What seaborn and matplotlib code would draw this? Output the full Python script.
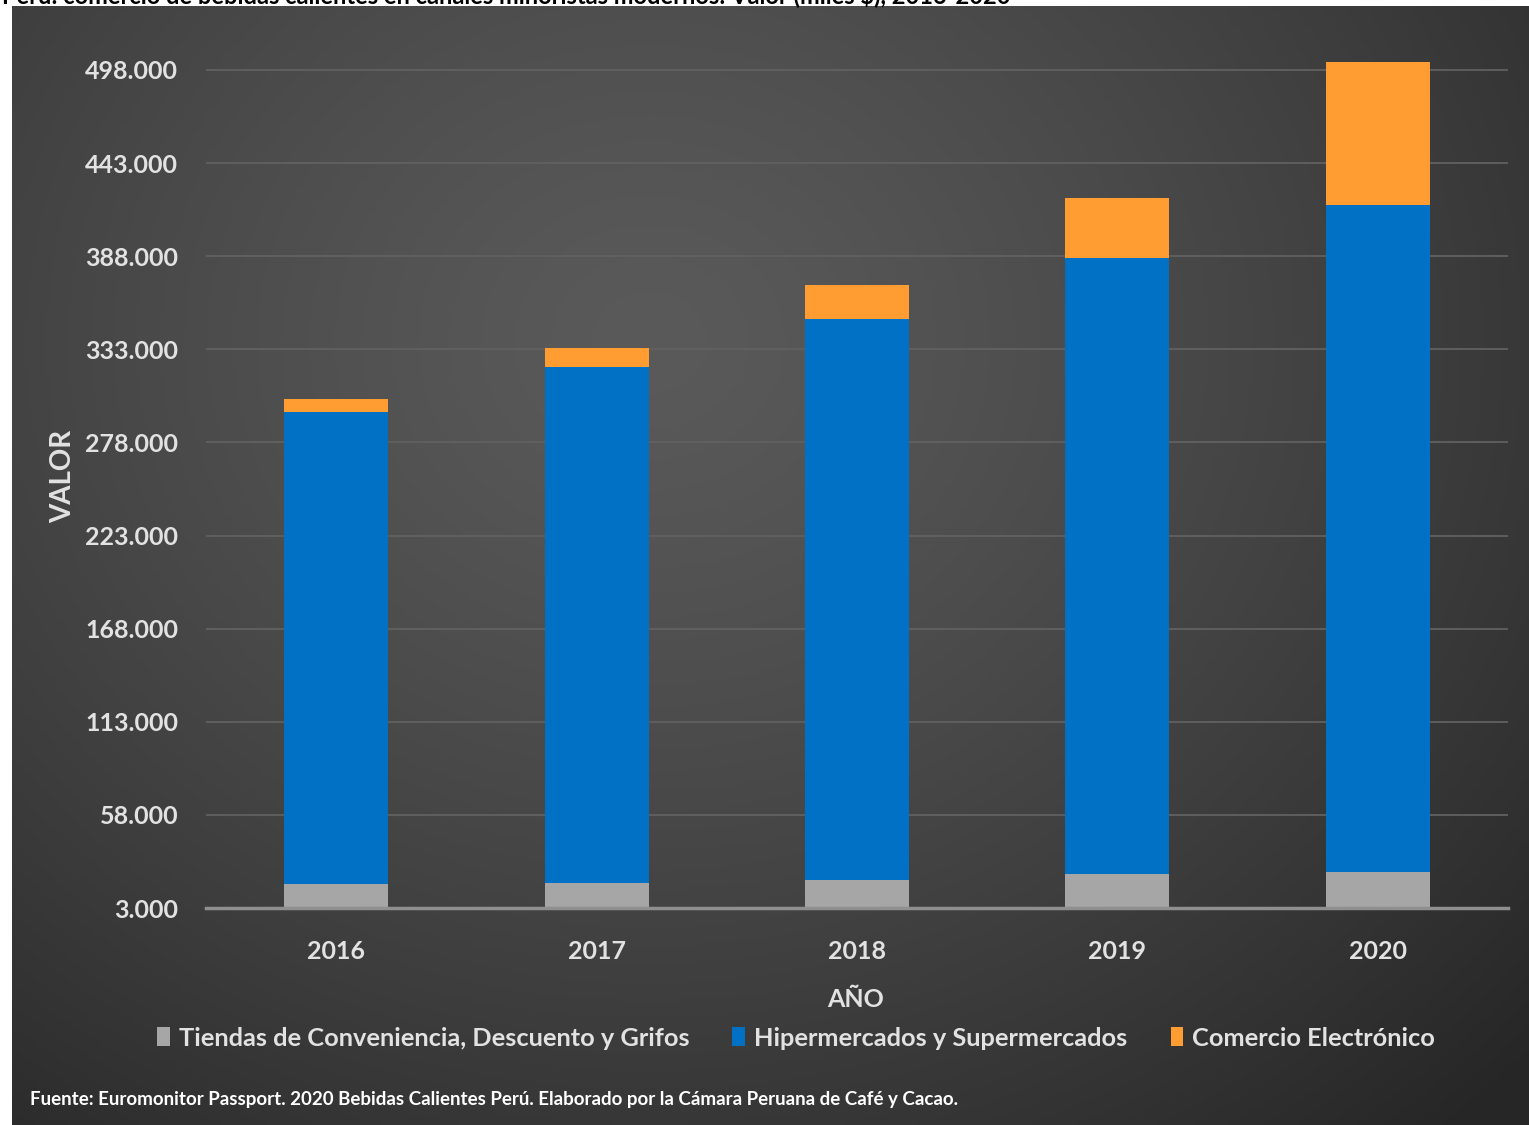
import numpy as np
import pandas as pd
import matplotlib
matplotlib.use("Agg")
import matplotlib.pyplot as plt
import seaborn as sns
from matplotlib.patches import Patch

# datos (miles $)
years = ["2016", "2017", "2018", "2019", "2020"]
tiendas = [17.2, 17.8, 19.5, 22.9, 24.4]
hiper = [279.0, 304.9, 331.2, 364.1, 393.6]
comercio = [7.3, 10.9, 20.3, 35.2, 84.7]
y_ticks = [3, 58, 113, 168, 223, 278, 333, 388, 443, 498]
series_names = ["Tiendas de Conveniencia, Descuento y Grifos",
                "Hipermercados y Supermercados",
                "Comercio Electrónico"]
colors = ["#A6A6A6", "#0071C5", "#FF9D33"]

df = pd.DataFrame({"year": years, "tiendas": tiendas,
                   "hiper": hiper, "comercio": comercio})
df["cum_hiper"] = df["tiendas"] + df["hiper"]
df["cum_total"] = df["cum_hiper"] + df["comercio"]

sns.set_theme(style="dark")
plt.rcParams["font.family"] = ["Lato", "DejaVu Sans"]

W, H = 1529, 1125
fig = plt.figure(figsize=(W / 100, H / 100), dpi=100, facecolor="white")

# fondo oscuro con degradado radial
bg = fig.add_axes([12 / W, 0, 1 - 12 / W, 1 - 6 / H], zorder=0)
gx, gy = np.meshgrid(np.linspace(0, 1, 400), np.linspace(0, 1, 300))
d = np.sqrt(((gx - 0.42) / 0.8) ** 2 + ((gy - 0.3) / 0.95) ** 2)
shade = 0x5a - (0x5a - 0x26) * np.clip(d, 0, 1) ** 1.3
img = np.dstack([shade, shade, shade]) / 255.0
bg.imshow(img, aspect="auto", extent=[0, 1, 1, 0])
bg.set_axis_off()

ax = fig.add_axes([206 / W, (H - 908) / H, (1508 - 206) / W, (908 - 61.5) / H],
                  zorder=1)
ax.patch.set_alpha(0)

# barras apiladas: total primero, luego los acumulados menores encima
for col, color in zip(["cum_total", "cum_hiper", "tiendas"], colors[::-1]):
    sns.barplot(data=df, x="year", y=col, color=color, width=0.4,
                saturation=1, linewidth=0, ax=ax, zorder=3)

ax.set_xlim(-0.5, 4.5)
ax.set_ylim(3, 503)
ax.set_yticks(y_ticks)
ax.set_yticklabels([f"{v}.000" for v in y_ticks])
ax.yaxis.grid(True, color="#616161", linewidth=1.3)
ax.xaxis.grid(False)
ax.set_axisbelow(True)

for s in ["top", "right", "left"]:
    ax.spines[s].set_visible(False)
ax.spines["bottom"].set_color("#8f8f8f")
ax.spines["bottom"].set_linewidth(2.5)
ax.spines["bottom"].set_zorder(4)

ax.tick_params(axis="y", length=0, pad=20, labelsize=18, labelcolor="#e2e2e2")
ax.tick_params(axis="x", length=0, pad=23, labelsize=18, labelcolor="#e2e2e2")
for lab in ax.get_xticklabels() + ax.get_yticklabels():
    lab.set_fontweight("bold")

ax.set_ylabel("VALOR", fontsize=20, fontweight="bold", color="#e2e2e2")
ax.yaxis.set_label_coords(-0.1, 0.51)
ax.set_xlabel("AÑO", fontsize=18, fontweight="bold", color="#e2e2e2")
ax.xaxis.set_label_coords(0.499, -0.094)

handles = [Patch(facecolor=c, edgecolor="none") for c in colors]
fig.legend(handles, series_names, loc="center", ncol=3, frameon=False,
           bbox_to_anchor=(796 / W, 1 - 1038 / H),
           labelcolor="#e2e2e2", handlelength=0.5, handleheight=0.8,
           handletextpad=0.35, columnspacing=1.7,
           prop={"weight": "bold", "size": 18.3})

fig.text(30 / W, 1 - 1100 / H,
         "Fuente: Euromonitor Passport. 2020 Bebidas Calientes Perú. "
         "Elaborado por la Cámara Peruana de Café y Cacao.",
         fontsize=13.5, fontweight="bold", color="white", va="center")

# titulo recortado en el borde superior, como en el original
fig.text(2 / W, 1 - 3 / H,
         "Perú: comercio de bebidas calientes en canales minoristas modernos: "
         "Valor (miles $), 2016-2020",
         fontsize=17, fontweight="bold", color="black", va="baseline")

fig.savefig("out.png", dpi=100, facecolor="white")
